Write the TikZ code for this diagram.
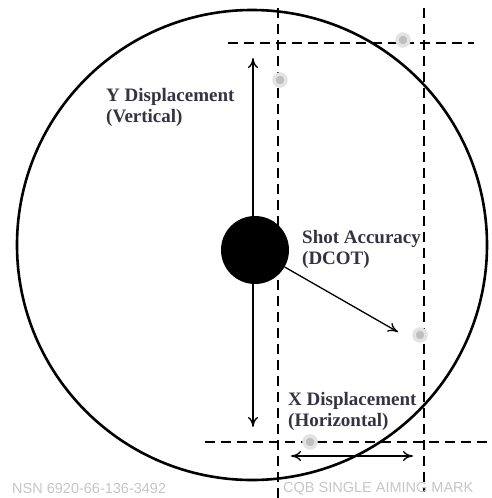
\documentclass[tikz,border=0pt]{standalone}
\usepackage{fontspec}
\setmainfont{Liberation Serif}
\setsansfont{Liberation Sans}
\usetikzlibrary{arrows.meta,positioning}
\definecolor{inkgray}{rgb}{0.20,0.20,0.26}

\begin{document}
\begin{tikzpicture}[
  x=1pt, y=-1pt,
  lbl/.style={font=\bfseries\fontsize{19}{21}\selectfont, text=inkgray, align=left, anchor=north west, inner sep=0pt},
  tag/.style={font=\sffamily\fontsize{14.5}{14.5}\selectfont, text=gray!45, anchor=west, inner sep=0pt},
  guide/.style={line width=1.8pt, dash pattern=on 10pt off 6pt},
  arr/.style={{To[length=3.5mm, width=3.5mm]}-{To[length=3.5mm, width=3.5mm]}, line width=1.3pt},
  shot/.style={circle, inner sep=0pt, minimum size=12pt, fill=gray!50, draw=gray!22, line width=3.5pt}
]
\useasboundingbox (0,0) rectangle (491,498);

% target ring
\draw[line width=2.6pt] (252,245) circle (235);

% dashed guides
\coordinate (vLtop) at (278,8);
\coordinate (vLbot) at (278,498);
\coordinate (vRtop) at (424,8);
\coordinate (vRbot) at (424,492);
\coordinate (hTl) at (228,43);
\coordinate (hTr) at (474,43);
\coordinate (hBl) at (205,442);
\coordinate (hBr) at (491,442);
\draw[guide] (vLtop) -- (vLbot);
\draw[guide] (vRtop) -- (vRbot);
\draw[guide] (hTl) -- (hTr);
\draw[guide] (hBl) -- (hBr);

% shot marks
\node[shot] (shotA) at (280,80) {};
\node[shot] (shotB) at (403,40) {};
\node[shot] (shotC) at (420,335) {};
\node[shot] (shotD) at (310,442) {};

% aiming mark and displacements
\coordinate (yTop) at (253,58);
\coordinate (yBot) at (253,427);
\draw[arr] (yTop) -- (yBot);
\node[circle, fill=black, minimum size=68pt, inner sep=0pt] (dot) at (255,250) {};
\coordinate (aimTip) at (398,332);
\draw[{To[length=3.5mm, width=3.5mm]}-, line width=1.3pt] (aimTip) -- (dot);
\coordinate (xLeft) at (291,456);
\coordinate (xRight) at (413,456);
\draw[arr] (xLeft) -- (xRight);

% labels
\node[lbl] (yLbl) at (106,88) {Y Displacement\\(Vertical)};
\node[lbl] (accLbl) at (302,230) {Shot Accuracy\\(DCOT)};
\node[lbl] (xLbl) at (288,392) {X Displacement\\(Horizontal)};
\node[tag] (nsn) at (12,489) {NSN 6920-66-136-3492};
\node[tag] (cqb) at (283,489) {CQB SINGLE AIMING MARK};
\end{tikzpicture}
\end{document}
